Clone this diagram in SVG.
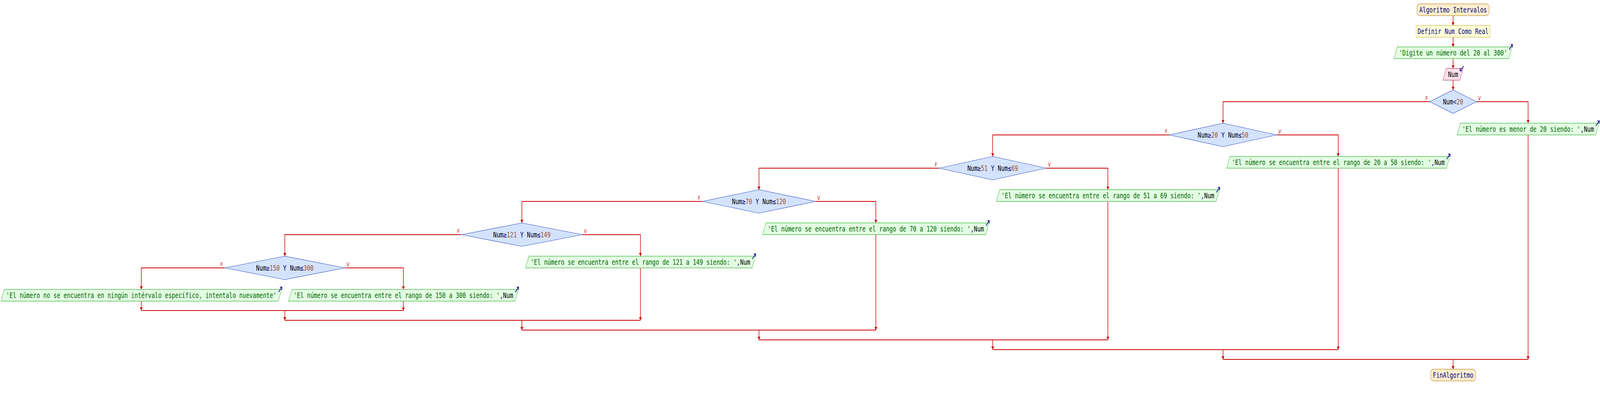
<svg xmlns="http://www.w3.org/2000/svg" xmlns:xlink="http://www.w3.org/1999/xlink" width="5696" height="1010" viewBox="0 0 5696 1010" preserveAspectRatio="none">
<style>
svg:root{width:100vw;height:100vh;display:block}
.term{fill:#fdefcf;stroke:#cf9a4a;stroke-width:1.5}
.proc{fill:#ffffd9;stroke:#d6c86a;stroke-width:1.5}
.out{fill:#e2fde2;stroke:#5abf5a;stroke-width:1.3}
.in{fill:#fde0ec;stroke:#c0608c;stroke-width:1.3}
.dec{fill:#d4e3fd;stroke:#3a5ac8;stroke-width:1.2}
.t{font-family:"DejaVu Sans Mono","Liberation Mono",monospace;font-size:20px;text-anchor:middle}
.kw{fill:#000080}.str{fill:#006400}.num{fill:#a0522d}.id{fill:#000000}.op{fill:#000080}
.lbl{font-family:"DejaVu Sans","Liberation Sans",sans-serif;font-size:14px;fill:#cc0000}
.edge{stroke:#cc0000;stroke-width:2;fill:none}
.arr{marker-end:url(#ah)}
.icon{stroke:#000080;stroke-width:2;fill:none}
</style>
<defs>
<marker id="ah" viewBox="0 0 8 10" refX="8" refY="5" markerWidth="8" markerHeight="10" orient="auto" markerUnits="userSpaceOnUse">
<path d="M0,0 L8,5 L0,10 z" fill="#cc0000"/>
</marker>
<path id="oicon" class="icon" d="M-12,13 L0,0 M-7,0.5 L0,0 L-0.5,7"/>
<path id="iicon" class="icon" d="M0,0 L-13,12 M-13,5 L-13,12 L-6,12"/>
</defs>
<rect width="5696" height="1010" fill="#ffffff"/>

<g id="connectors">
<path class="edge arr" d="M5173,40 V65"/>
<path class="edge arr" d="M5173,95 V120"/>
<path class="edge arr" d="M5173,150 V175"/>
<path class="edge arr" d="M5173,205 V230"/>
<path class="edge arr" d="M5256,260 H5440 V315"/>
<path class="edge arr" d="M5090,260 H4354 V315"/>
<path class="edge arr" d="M5440,345 V919"/>
<path class="edge arr" d="M4545,345 H4764 V400"/>
<path class="edge arr" d="M4163,345 H3534 V400"/>
<path class="edge arr" d="M4764,430 V894"/>
<path class="edge arr" d="M3725,430 H3944 V485"/>
<path class="edge arr" d="M3343,430 H2702 V485"/>
<path class="edge arr" d="M3944,515 V869"/>
<path class="edge arr" d="M2904,515 H3118 V570"/>
<path class="edge arr" d="M2500,515 H1858 V570"/>
<path class="edge arr" d="M3118,600 V844"/>
<path class="edge arr" d="M2073,600 H2280 V655"/>
<path class="edge arr" d="M1643,600 H1014 V655"/>
<path class="edge arr" d="M2280,685 V819"/>
<path class="edge arr" d="M1228,685 H1436 V740"/>
<path class="edge arr" d="M800,685 H503 V740"/>
<path class="edge arr" d="M1436,770 V794"/>
<path class="edge arr" d="M503,770 V794"/>
<path class="edge" d="M503,794 H1436"/>
<path class="edge arr" d="M1014,794 V819"/>
<path class="edge" d="M1014,819 H2280"/>
<path class="edge arr" d="M1858,819 V844"/>
<path class="edge" d="M1858,844 H3118"/>
<path class="edge arr" d="M2702,844 V869"/>
<path class="edge" d="M2702,869 H3944"/>
<path class="edge arr" d="M3534,869 V894"/>
<path class="edge" d="M3534,894 H4764"/>
<path class="edge arr" d="M4354,894 V919"/>
<path class="edge" d="M4354,919 H5440"/>
<path class="edge arr" d="M5173,919 V944"/>
</g>

<g id="start">
<rect class="term" x="5044.5" y="10" width="257" height="30" rx="10"/>
<text class="t" x="5173" y="32"><tspan class="kw">Algoritmo Intervalos</tspan></text>
</g>
<g id="define">
<rect class="proc" x="5041.5" y="65" width="263" height="30"/>
<text class="t kw" x="5173" y="87">Definir Num Como Real</text>
</g>
<g id="prompt">
<polygon class="out" points="4974.4,120 5383.6,120 5371.6,150 4962.4,150"/>
<text class="t" x="5173" y="142"><tspan class="str">'Digite un número del 20 al 300'</tspan></text>
<use xlink:href="#oicon" x="5384.6" y="114"/>
</g>
<g id="read">
<polygon class="in" points="5149,175 5209,175 5197,205 5137,205"/>
<text class="t id" x="5173" y="197">Num</text>
<use xlink:href="#iicon" x="5211" y="169"/>
</g>

<g id="dec1">
<polygon class="dec" points="5173,230 5256,260 5173,290 5090,260"/>
<text class="t" x="5173" y="267"><tspan class="id">Num</tspan><tspan class="op">&lt;</tspan><tspan class="num">20</tspan></text>
<text class="lbl" x="5083" y="256" text-anchor="end">F</text>
<text class="lbl" x="5262" y="256">V</text>
</g>
<g id="out1">
<polygon class="out" points="5199.2,315 5692.8,315 5680.8,345 5187.2,345"/>
<text class="t" x="5440" y="337"><tspan class="str">'El número es menor de 20 siendo: '</tspan><tspan class="op">,</tspan><tspan class="id">Num</tspan></text>
<use xlink:href="#oicon" x="5693.5" y="309"/>
</g>

<g id="dec2">
<polygon class="dec" points="4354,315 4545,345 4354,375 4163,345"/>
<text class="t" x="4354" y="352"><tspan class="id">Num</tspan><tspan class="op">≥</tspan><tspan class="num">20</tspan><tspan class="kw"> Y </tspan><tspan class="id">Num</tspan><tspan class="op">≤</tspan><tspan class="num">50</tspan></text>
<text class="lbl" x="4156" y="341" text-anchor="end">F</text>
<text class="lbl" x="4551" y="341">V</text>
</g>
<g id="out2">
<polygon class="out" points="4378.7,400 5161.3,400 5149.3,430 4366.7,430"/>
<text class="t" x="4764" y="422"><tspan class="str">'El número se encuentra entre el rango de 20 a 50 siendo: '</tspan><tspan class="op">,</tspan><tspan class="id">Num</tspan></text>
<use xlink:href="#oicon" x="5162.3" y="394"/>
</g>

<g id="dec3">
<polygon class="dec" points="3534,400 3725,430 3534,460 3343,430"/>
<text class="t" x="3534" y="437"><tspan class="id">Num</tspan><tspan class="op">≥</tspan><tspan class="num">51</tspan><tspan class="kw"> Y </tspan><tspan class="id">Num</tspan><tspan class="op">≤</tspan><tspan class="num">69</tspan></text>
<text class="lbl" x="3336" y="426" text-anchor="end">F</text>
<text class="lbl" x="3731" y="426">V</text>
</g>
<g id="out3">
<polygon class="out" points="3558.7,485 4341.3,485 4329.3,515 3546.7,515"/>
<text class="t" x="3944" y="507"><tspan class="str">'El número se encuentra entre el rango de 51 a 69 siendo: '</tspan><tspan class="op">,</tspan><tspan class="id">Num</tspan></text>
<use xlink:href="#oicon" x="4342.3" y="479"/>
</g>

<g id="dec4">
<polygon class="dec" points="2702,485 2904,515 2702,545 2500,515"/>
<text class="t" x="2702" y="522"><tspan class="id">Num</tspan><tspan class="op">≥</tspan><tspan class="num">70</tspan><tspan class="kw"> Y </tspan><tspan class="id">Num</tspan><tspan class="op">≤</tspan><tspan class="num">120</tspan></text>
<text class="lbl" x="2493" y="511" text-anchor="end">F</text>
<text class="lbl" x="2910" y="511">V</text>
</g>
<g id="out4">
<polygon class="out" points="2726.7,570 3521.3,570 3509.3,600 2714.7,600"/>
<text class="t" x="3118" y="592"><tspan class="str">'El número se encuentra entre el rango de 70 a 120 siendo: '</tspan><tspan class="op">,</tspan><tspan class="id">Num</tspan></text>
<use xlink:href="#oicon" x="3522.3" y="564"/>
</g>

<g id="dec5">
<polygon class="dec" points="1858,570 2073,600 1858,630 1643,600"/>
<text class="t" x="1858" y="607"><tspan class="id">Num</tspan><tspan class="op">≥</tspan><tspan class="num">121</tspan><tspan class="kw"> Y </tspan><tspan class="id">Num</tspan><tspan class="op">≤</tspan><tspan class="num">149</tspan></text>
<text class="lbl" x="1636" y="596" text-anchor="end">F</text>
<text class="lbl" x="2079" y="596">V</text>
</g>
<g id="out5">
<polygon class="out" points="1882.7,655 2689.3,655 2677.3,685 1870.7,685"/>
<text class="t" x="2280" y="677"><tspan class="str">'El número se encuentra entre el rango de 121 a 149 siendo: '</tspan><tspan class="op">,</tspan><tspan class="id">Num</tspan></text>
<use xlink:href="#oicon" x="2690.3" y="649"/>
</g>

<g id="dec6">
<polygon class="dec" points="1014,655 1228,685 1014,715 800,685"/>
<text class="t" x="1014" y="692"><tspan class="id">Num</tspan><tspan class="op">≥</tspan><tspan class="num">150</tspan><tspan class="kw"> Y </tspan><tspan class="id">Num</tspan><tspan class="op">≤</tspan><tspan class="num">300</tspan></text>
<text class="lbl" x="793" y="681" text-anchor="end">F</text>
<text class="lbl" x="1234" y="681">V</text>
</g>
<g id="out6">
<polygon class="out" points="1038.7,740 1845.3,740 1833.3,770 1026.7,770"/>
<text class="t" x="1436" y="762"><tspan class="str">'El número se encuentra entre el rango de 150 a 300 siendo: '</tspan><tspan class="op">,</tspan><tspan class="id">Num</tspan></text>
<use xlink:href="#oicon" x="1846.3" y="734"/>
</g>
<g id="out7">
<polygon class="out" points="15.4,740 1002.6,740 990.6,770 3.4,770"/>
<text class="t" x="503" y="762"><tspan class="str">'El número no se encuentra en ningún intérvalo específico, intentalo nuevamente'</tspan></text>
<use xlink:href="#oicon" x="1003.6" y="734"/>
</g>

<g id="end">
<rect class="term" x="5093" y="944" width="160" height="30" rx="10"/>
<text class="t kw" x="5173" y="966">FinAlgoritmo</text>
</g>
</svg>
